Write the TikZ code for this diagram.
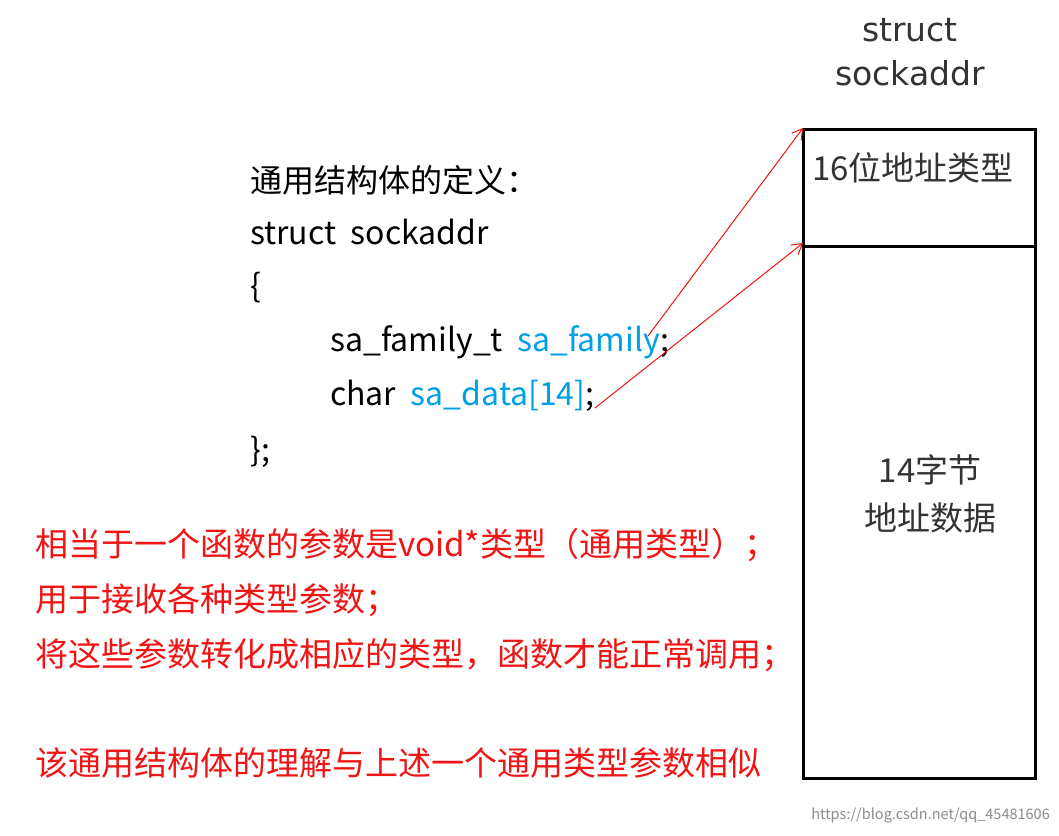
\documentclass[tikz,border=0pt]{standalone}
\usepackage{fontspec}
\usetikzlibrary{arrows.meta}
\setmainfont{Noto Sans CJK SC}
\newfontfamily\djv{DejaVu Sans}
\definecolor{myblue}{RGB}{0,160,230}
\definecolor{myred}{RGB}{240,20,20}
\begin{document}
\begin{tikzpicture}[x=1pt,y=-1pt,
  code/.style={anchor=west,inner sep=0,font=\fontsize{32}{34}\selectfont},
  note/.style={anchor=west,inner sep=0,text=myred,font=\fontsize{33}{34}\selectfont},
  boxt/.style={inner sep=0,text=black!80,font=\djv\fontsize{33}{44}\selectfont,align=center},
  arr/.style={draw=myred,line width=1pt,-{Straight Barb[length=10pt,width=12pt]}}]
\useasboundingbox (0,0) rectangle (1059,835);
\fill[white] (0,0) rectangle (1059,835);
\node[boxt] (title) at (910,52) {struct\\sockaddr};
\draw[line width=3pt] (803,129) rectangle (1035,778);
\draw[line width=3pt] (803,246) -- (1035,246);
\coordinate (t1) at (803,128);
\coordinate (t2) at (803,243);
\node[boxt,font=\fontsize{33}{36}\selectfont] (f1) at (913,168) {16位地址类型};
\node[boxt,font=\fontsize{33}{48}\selectfont] (f2) at (930,494) {14字节\\地址数据};
\node[code] (l1) at (250,180) {通用结构体的定义：};
\node[code] (l2) at (250,232) {struct\ \ sockaddr};
\node[code] (l3) at (250,288) {\{};
\node[code] (l4) at (330,342) {sa\_family\_t\ \ \textcolor{myblue}{sa\_family};};
\node[code] (l5) at (330,396) {char\ \ \textcolor{myblue}{sa\_data[14]};};
\node[code] (l6) at (250,452) {\};};
\coordinate (s1) at (648,336);
\coordinate (s2) at (595,408);
\draw[arr] (s1) -- (t1);
\draw[arr] (s2) -- (t2);
\node[note] (n1) at (35,545) {相当于一个函数的参数是void*类型（通用类型）；};
\node[note] (n2) at (35,600) {用于接收各种类型参数；};
\node[note] (n3) at (35,655) {将这些参数转化成相应的类型，函数才能正常调用；};
\node[note] (n4) at (35,763) {该通用结构体的理解与上述一个通用类型参数相似};
\node[anchor=east,inner sep=0,text=black!45,font=\fontsize{14.5}{16}\selectfont] (wm) at (1050,816) {https://blog.csdn.net/qq\_45481606};
\end{tikzpicture}
\end{document}
